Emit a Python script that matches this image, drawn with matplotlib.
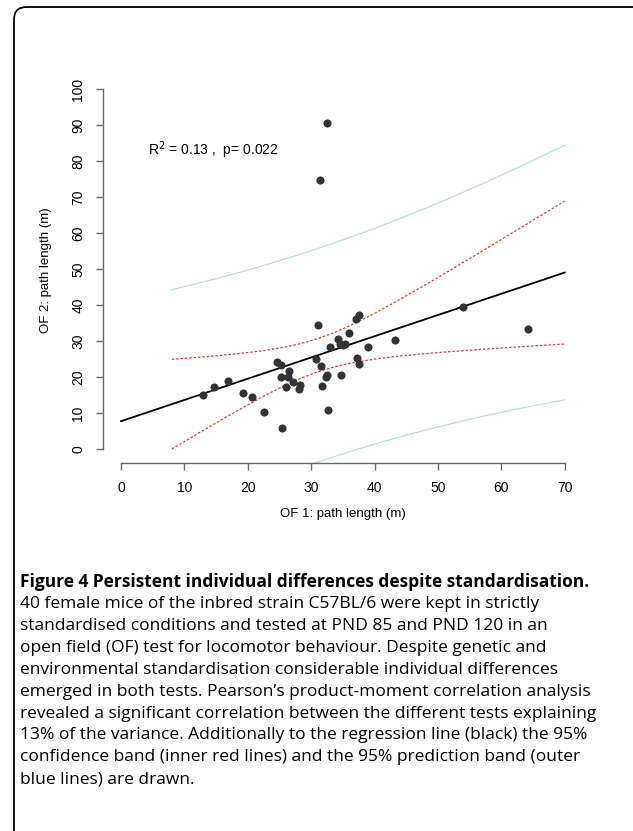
import numpy as np
import matplotlib
matplotlib.use("Agg")
import matplotlib.pyplot as plt
from matplotlib.patches import FancyBboxPatch

# OF1 vs OF2 path length (m)
of1 = [13.0, 14.6, 16.9, 19.3, 20.6, 22.5, 24.6, 25.3, 26.5, 25.3,
       26.3, 26.0, 27.1, 28.3, 28.1, 25.4, 32.6, 31.0, 37.5, 37.1,
       35.9, 34.2, 33.0, 34.6, 35.3, 38.9, 43.2, 30.8, 31.5, 37.3,
       37.6, 32.4, 34.7, 31.7, 32.5, 31.4, 54.0, 64.2, 32.5, 35.0]
of2 = [14.9, 17.1, 18.8, 15.5, 14.5, 10.2, 24.2, 23.4, 21.7, 19.9,
       20.1, 17.2, 18.6, 17.8, 16.8, 5.8, 10.8, 34.5, 37.3, 36.1,
       32.3, 30.5, 28.3, 29.1, 29.1, 28.4, 30.3, 25.1, 23.2, 25.4,
       23.6, 20.1, 20.5, 17.4, 90.7, 74.8, 39.4, 33.4, 20.6, 29.0]

x_ticks = [0, 10, 20, 30, 40, 50, 60, 70]
y_ticks = [0, 10, 20, 30, 40, 50, 60, 70, 80, 90, 100]
stats_label = r"R$^2$ = 0.13 ,  p= 0.022"

caption_title = "Figure 4 Persistent individual differences despite standardisation."
caption_lines = [
    "40 female mice of the inbred strain C57BL/6 were kept in strictly",
    "standardised conditions and tested at PND 85 and PND 120 in an",
    "open field (OF) test for locomotor behaviour. Despite genetic and",
    "environmental standardisation considerable individual differences",
    "emerged in both tests. Pearson\u2019s product-moment correlation analysis",
    "revealed a significant correlation between the different tests explaining",
    "13% of the variance. Additionally to the regression line (black) the 95%",
    "confidence band (inner red lines) and the 95% prediction band (outer",
    "blue lines) are drawn.",
]

x = np.array(of1)
y = np.array(of2)
n = len(x)

# linear fit with 95% confidence / prediction bands
slope, intercept = np.polyfit(x, y, 1)
resid = y - (intercept + slope * x)
s = np.sqrt(np.sum(resid ** 2) / (n - 2))
sxx = np.sum((x - x.mean()) ** 2)
t_crit = 2.024  # t(0.975, 38)
xg = np.linspace(8, 70, 200)
yg = intercept + slope * xg
ci = t_crit * s * np.sqrt(1 / n + (xg - x.mean()) ** 2 / sxx)
pi = t_crit * s * np.sqrt(1 + 1 / n + (xg - x.mean()) ** 2 / sxx)

fig = plt.figure(figsize=(6.33, 8.31), dpi=100)
ax = fig.add_axes([0.1632, 0.4424, 0.757, 0.4675])

xl = np.array([x_ticks[0], x_ticks[-1]])
ax.plot(xl, intercept + slope * xl, color="black", lw=1.3, zorder=3)
ax.plot(xg, yg + ci, color="#e03a3a", lw=0.9, ls=(0, (2, 1.5)))
ax.plot(xg, yg - ci, color="#e03a3a", lw=0.9, ls=(0, (2, 1.5)))
ax.plot(xg, yg + pi, color="#b2dadb", lw=0.8)
ax.plot(xg, yg - pi, color="#b2dadb", lw=0.8)
ax.scatter(x, y, s=34, color="#333333", zorder=4, linewidths=0)

ax.text(4.2, 83, stats_label, fontsize=10, family="Liberation Sans",
        ha="left", va="center")

ax.set_xlim(-2.8, 72.8)
ax.set_ylim(-4, 104)
ax.set_xticks(x_ticks)
ax.set_yticks(y_ticks)
for sp in ["top", "right"]:
    ax.spines[sp].set_visible(False)
ax.spines["bottom"].set_bounds(0, 70)
ax.spines["left"].set_bounds(0, 100)
for sp in ["bottom", "left"]:
    ax.spines[sp].set_color("#666666")
    ax.spines[sp].set_linewidth(1.0)
ax.tick_params(axis="both", direction="out", length=5, width=1.0,
               color="#666666", labelsize=10, pad=8)
for lab in ax.get_xticklabels() + ax.get_yticklabels():
    lab.set_family("Liberation Sans")
for lab in ax.get_yticklabels():
    lab.set_rotation(90)
    lab.set_va("center")
ax.set_xlabel("OF 1: path length (m)", fontsize=9.5, family="Liberation Sans",
              labelpad=9)
fig.text(46 / 633, 1 - 270 / 831, "OF 2: path length (m)", rotation=90,
         fontsize=9.5, family="Liberation Sans", ha="center", va="center")

# caption
fig.text(20 / 633, 1 - 582 / 831, caption_title, fontsize=12.5,
         family="Open Sans", weight="bold", ha="left", va="center")
for i, line in enumerate(caption_lines):
    fig.text(20 / 633, 1 - (604 + 21.9 * i) / 831, line, fontsize=12.5,
             family="Open Sans", ha="left", va="center")

# rounded frame (only top-left corner visible)
frame = FancyBboxPatch((14 / 633, -0.1), 1.2, 1 - 7 / 831 + 0.1,
                       boxstyle="round,pad=0,rounding_size=0.02",
                       transform=fig.transFigure, fill=False,
                       edgecolor="black", lw=1.3, mutation_aspect=633 / 831)
fig.patches.append(frame)

fig.savefig("out.png", dpi=100)
